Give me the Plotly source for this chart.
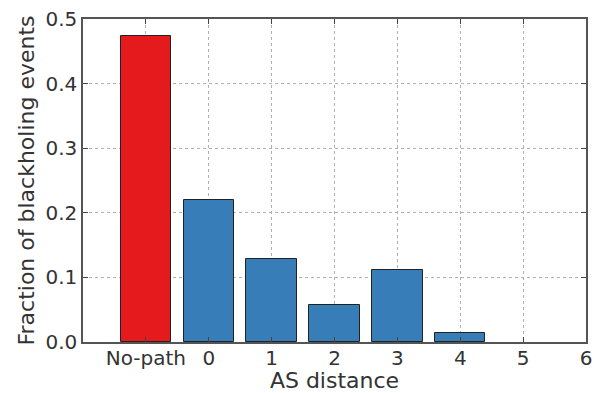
import plotly.graph_objects as go

categories = ["No-path", "0", "1", "2", "3", "4", "5"]
positions = [-1, 0, 1, 2, 3, 4, 5]
values = [0.474, 0.220, 0.128, 0.058, 0.112, 0.014, 0.0]
bar_colors = ["#e41a1c", "#377eb8", "#377eb8", "#377eb8", "#377eb8", "#377eb8", "#377eb8"]
xtick_vals = [-1, 0, 1, 2, 3, 4, 5, 6]
xtick_text = ["No-path", "0", "1", "2", "3", "4", "5", "6"]
ytick_vals = [0.0, 0.1, 0.2, 0.3, 0.4, 0.5]

edge_widths = [1 if v > 0 else 0 for v in values]

fig = go.Figure(go.Bar(
    x=positions, y=values, width=0.8,
    marker=dict(color=bar_colors, line=dict(color="#222222", width=edge_widths)),
    hovertext=categories,
))

font = dict(family="DejaVu Sans", size=18, color="#333333")
tickfont = dict(family="DejaVu Sans", size=20, color="#333333")
fig.update_layout(
    width=594, height=393,
    margin=dict(l=83, r=8, t=19, b=51),
    paper_bgcolor="white", plot_bgcolor="white",
    font=font, showlegend=False, bargap=0,
)
fig.update_xaxes(
    range=[-2, 6], tickmode="array", tickvals=xtick_vals, ticktext=xtick_text,
    tickfont=tickfont, automargin=False, ticklabelstandoff=-3,
    showgrid=True, gridcolor="#b0b0b0", griddash="dot", gridwidth=1,
    showline=True, linecolor="#555555", linewidth=1.5, mirror="ticks",
    ticks="inside", ticklen=5, tickcolor="#444444",
    title=dict(text="AS distance"), zeroline=False,
)
fig.update_yaxes(
    range=[0, 0.5], tickmode="array", tickvals=ytick_vals, tickformat=".1f",
    tickfont=tickfont, automargin=False,
    showgrid=True, gridcolor="#b0b0b0", griddash="dot", gridwidth=1,
    showline=True, linecolor="#555555", linewidth=1.5, mirror="ticks",
    ticks="inside", ticklen=5, tickcolor="#444444",
    title=dict(text="Fraction of blackholing events", standoff=5), zeroline=False,
)
fig.write_html("out.html")
